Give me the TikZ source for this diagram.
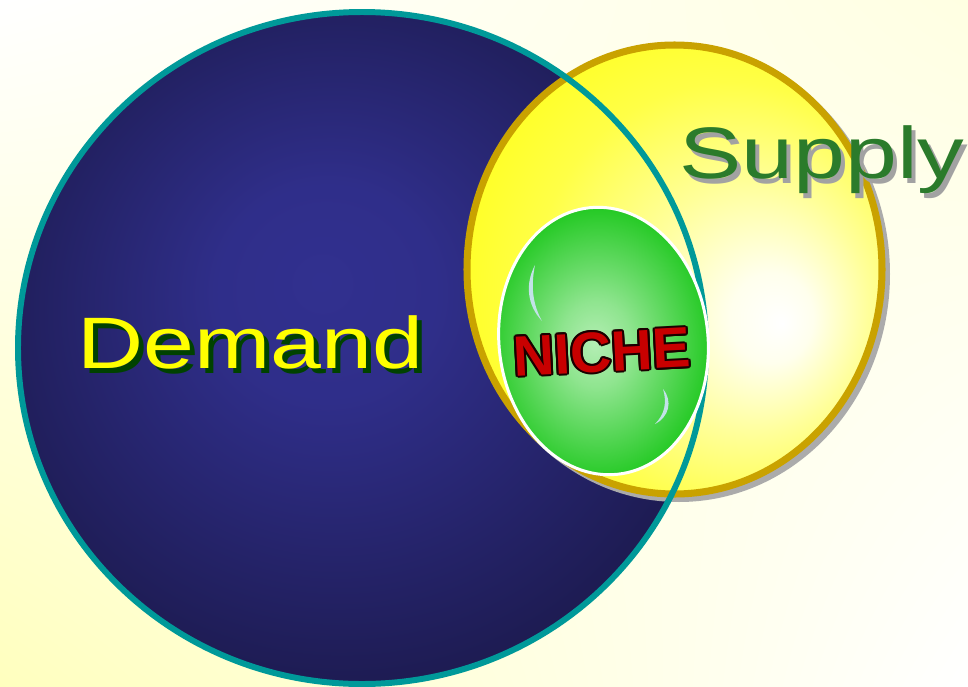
\documentclass[tikz,border=0pt]{standalone}
\usepackage{fontspec}
\usetikzlibrary{shadings}
\newfontfamily\demandfont[FakeStretch=1.255]{Liberation Sans}
\newfontfamily\supplyfont[FakeStretch=1.28]{Liberation Sans}
\newfontfamily\nichefont{Liberation Sans}
\definecolor{bgyellow}{HTML}{FFFFBE}
\definecolor{bgpale}{HTML}{FFFFE2}
\definecolor{demandin}{HTML}{31308F}
\definecolor{demandout}{HTML}{1B194B}
\definecolor{demandteal}{HTML}{009999}
\definecolor{supplyyellow}{HTML}{FFFF1E}
\definecolor{supplygold}{HTML}{C9A200}
\definecolor{shadowgray}{HTML}{ABABAB}
\definecolor{nichein}{HTML}{B4EEB4}
\definecolor{nicheout}{HTML}{1EC81E}
\definecolor{nichered}{HTML}{C80000}
\definecolor{nicheedge}{HTML}{1A0000}
\definecolor{glint}{HTML}{C2E2E8}
\definecolor{demandtext}{HTML}{FFFF00}
\definecolor{demandshadow}{HTML}{004200}
\definecolor{supplytext}{HTML}{2B7B2B}
\definecolor{supplyshadow}{HTML}{A2A2A2}
\pgfdeclareradialshading{demandshade}{\pgfpoint{-3bp}{5bp}}{color(0bp)=(demandin); color(8bp)=(demandin!92!demandout); color(30bp)=(demandout); color(50bp)=(demandout)}
\pgfdeclareradialshading{supplyshade}{\pgfpoint{13bp}{-6bp}}{color(0bp)=(white); color(5bp)=(white!92!supplyyellow); color(14bp)=(white!55!supplyyellow); color(24bp)=(white!18!supplyyellow); color(33bp)=(supplyyellow); color(50bp)=(supplyyellow)}
\pgfdeclareradialshading{nicheshade}{\pgfpoint{-2bp}{0bp}}{color(0bp)=(nichein); color(8bp)=(nichein!75!nicheout); color(26bp)=(nicheout); color(50bp)=(nicheout)}
\begin{document}
\begin{tikzpicture}[x=0.02cm,y=-0.02cm,
  vennlabel/.style={inner sep=0pt, anchor=base west},
  nichelabel/.style={inner sep=0pt, rotate=3, font=\nichefont\bfseries\fontsize{32.4}{32.4}\selectfont}]
  \useasboundingbox (0,0) rectangle (968,687);
  \shade[lower left=bgyellow, upper left=white, upper right=bgpale, lower right=white] (0,0) rectangle (968,687);
  % demand
  \shade[shading=demandshade] (362,348) ellipse [x radius=344, y radius=336];
  % supply
  \fill[shadowgray] (679,274) ellipse [x radius=211, y radius=228];
  \shadedraw[shading=supplyshade, draw=supplygold, line width=4pt] (674.5,269.5) ellipse [x radius=207.5, y radius=224.5];
  \draw[demandteal, line width=3.4pt] (362,348) ellipse [x radius=344, y radius=336];
  % niche
  \shadedraw[shading=nicheshade, draw=white, line width=1.7pt, rotate around={6:(603.5,341)}] (603.5,341) ellipse [x radius=104.5, y radius=134];
  \fill[glint] (535,265) .. controls (525,284) and (527,305) .. (542,321) .. controls (532,303) and (531,285) .. (535,265) -- cycle;
  \fill[glint] (663,389) .. controls (673,401) and (669,417) .. (655,424) .. controls (665,414) and (667,402) .. (663,389) -- cycle;
  % labels
  \node[vennlabel, font=\demandfont\fontsize{41.5}{41.5}\selectfont, text=demandshadow] (Ds) at (82,373) {Demand};
  \node[vennlabel, font=\demandfont\fontsize{41.5}{41.5}\selectfont, text=demandtext] (D) at (77,368) {Demand};
  \node[vennlabel, font=\supplyfont\fontsize{41.5}{41.5}\selectfont, text=supplyshadow] (Ss) at (683,183) {Supply};
  \node[vennlabel, font=\supplyfont\fontsize{41.5}{41.5}\selectfont, text=supplytext] (S) at (679,178) {Supply};
  \foreach \a in {0,30,...,330}
    \node[nichelabel, text=nicheedge] (N\a) at ([shift={(\a:2)}]602,352) {NICHE};
  \node[nichelabel, text=nichered] (N) at (602,352) {NICHE};
\end{tikzpicture}
\end{document}
